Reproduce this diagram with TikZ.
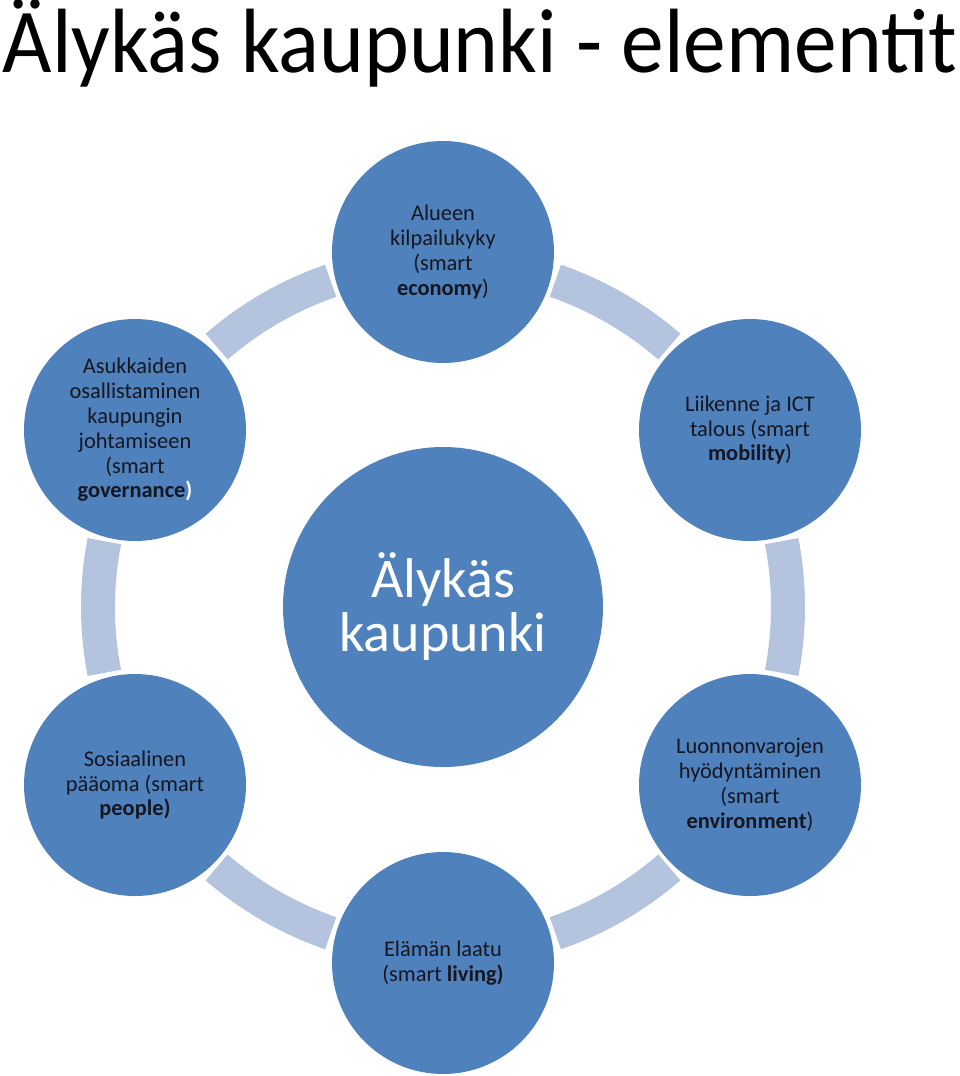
\documentclass[tikz,border=0pt]{standalone}
\usepackage{fontspec}
\setmainfont{Carlito}
\usetikzlibrary{positioning}
\definecolor{office_blue}{RGB}{79,129,189}
\definecolor{ring_blue}{RGB}{180,195,222}
\definecolor{text_dark}{RGB}{22,22,32}
\tikzset{
	petal/.style={circle, fill=office_blue, minimum size=166.5pt, inner sep=0pt,
		align=center, text=text_dark, font=\fontsize{16.8}{18.6}\selectfont},
	hub/.style={circle, fill=office_blue, minimum size=240pt, inner sep=0pt,
		align=center, text=white, font=\fontsize{42}{40.5}\selectfont},
	ringarc/.style={draw=ring_blue, line width=25.5pt, line cap=butt}
}

\begin{document}
\begin{tikzpicture}[x=0.75pt,y=-0.75pt,line join=round]
		\useasboundingbox (0,0) rectangle (960,1076);
		\node[anchor=base, font=\fontsize{64}{70}\selectfont] (title) at (480,72) {\scalebox{1.0}[1.07]{Älykäs kaupunki - elementit}};
		\node[hub] (hub) at (443,607) {Älykäs\\kaupunki};
		% ring between the petals
		\foreach\i in {0,1,2,3,4,5}
		{
			\pgfmathsetmacro\a{90+60*\i+19}
			\pgfmathsetmacro\b{90+60*\i+41}
			\draw[ringarc] ([shift={(\a:345)}]hub.center) arc[start angle=\a, end angle=\b, radius=345];
		}
		\node[petal] (economy)     at (443,252) {Alueen\\kilpailukyky\\(smart\\\textbf{economy})};
		\node[petal] (mobility)    at (750,430) {Liikenne ja ICT\\talous (smart\\\textbf{mobility})};
		\node[petal] (environment) at (750,785) {Luonnonvarojen\\hyödyntäminen\\(smart\\\textbf{environment})};
		\node[petal] (living)      at (443,963) {Elämän laatu\\(smart \textbf{living)}};
		\node[petal] (people)      at (135,785) {Sosiaalinen\\pääoma (smart\\\textbf{people)}};
		\node[petal] (governance)  at (135,430) {Asukkaiden\\osallistaminen\\kaupungin\\johtamiseen\\(smart\\\textbf{governance\textcolor{white}{)}}};
	\end{tikzpicture}
\end{document}
